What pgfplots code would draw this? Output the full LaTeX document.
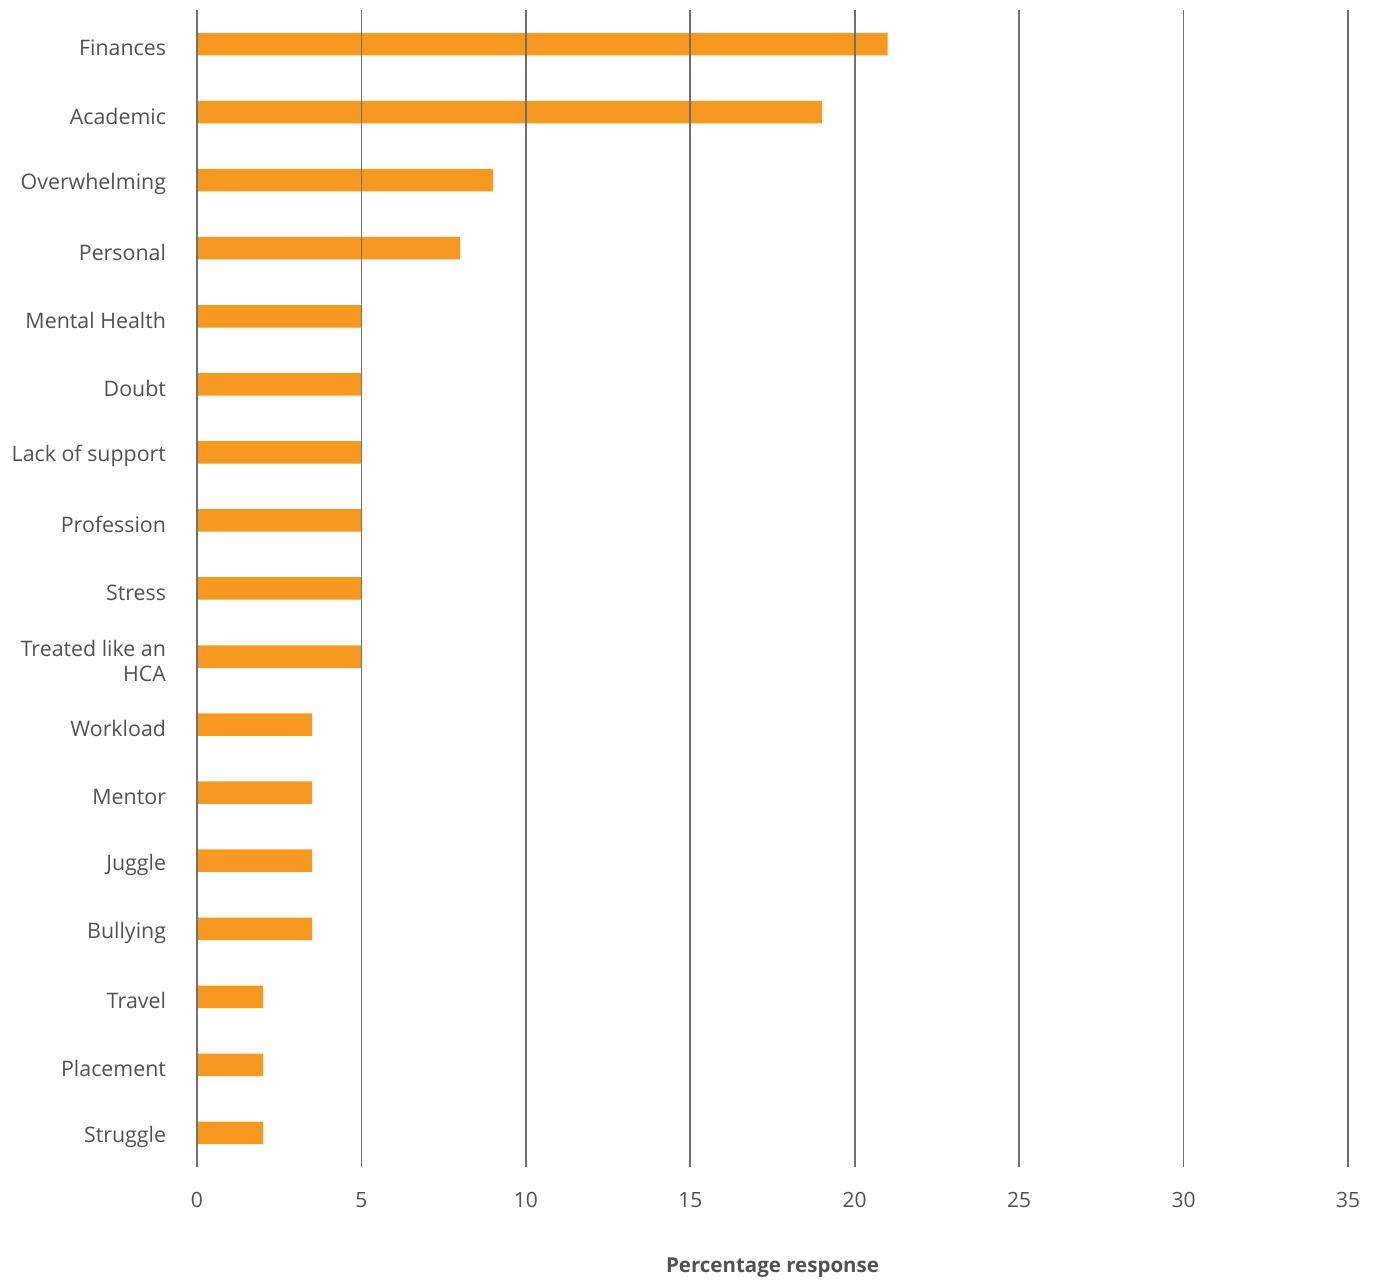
\documentclass[border=0pt]{standalone}
\usepackage{pgfplots}
\pgfplotsset{compat=1.18}
\usepackage{fontspec}
\setmainfont{Open Sans}
\definecolor{barorange}{HTML}{F7991F}
\definecolor{txt}{HTML}{505153}
\definecolor{gridc}{HTML}{707070}
\begin{document}
\begin{tikzpicture}
\begin{axis}[
  at={(0,0)}, anchor=south west,
  scale only axis, width=460.4pt, height=462.8pt,
  xmin=0, xmax=35, ymin=-0.5, ymax=16.5,
  xbar, bar width=9pt,
  axis line style={draw=none},
  tick style={draw=none},
  xmajorgrids, grid style={gridc, line width=0.7pt},
  axis on top,
  xtick={0,5,...,35},
  ytick={0,...,16},
  yticklabels={Struggle,Placement,Travel,Bullying,Juggle,Mentor,Workload,{Treated like an\\HCA},Stress,Profession,Lack of support,Doubt,Mental Health,Personal,Overwhelming,Academic,Finances},
  yticklabel style={align=right, font=\fontsize{8.55}{10}\selectfont, text=txt, anchor=east, xshift=-4.6pt, yshift=-1.6pt},
  xticklabel style={font=\fontsize{8.4}{10}\selectfont, text=txt, anchor=center, yshift=-13.2pt},
  /pgf/number format/assume math mode=true,
  xlabel={\textbf{Percentage response}},
  xlabel style={at={(axis description cs:0.5,0)}, anchor=center, yshift=-40.4pt, font=\fontsize{8.2}{10}\selectfont, text=txt},
]
\addplot[draw=none, fill=barorange] coordinates {
(2,0) (2,1) (2,2) (3.5,3) (3.5,4) (3.5,5) (3.5,6) (5,7) (5,8) (5,9) (5,10) (5,11) (5,12) (8,13) (9,14) (19,15) (21,16)
};
\draw[txt, line width=0.8pt] (axis cs:0,-0.5) -- (axis cs:0,16.5);
\end{axis}
\pgfresetboundingbox
\path[use as bounding box] (-78.8pt,-44.8pt) rectangle (471.6pt,466.8pt);
\end{tikzpicture}
\end{document}
